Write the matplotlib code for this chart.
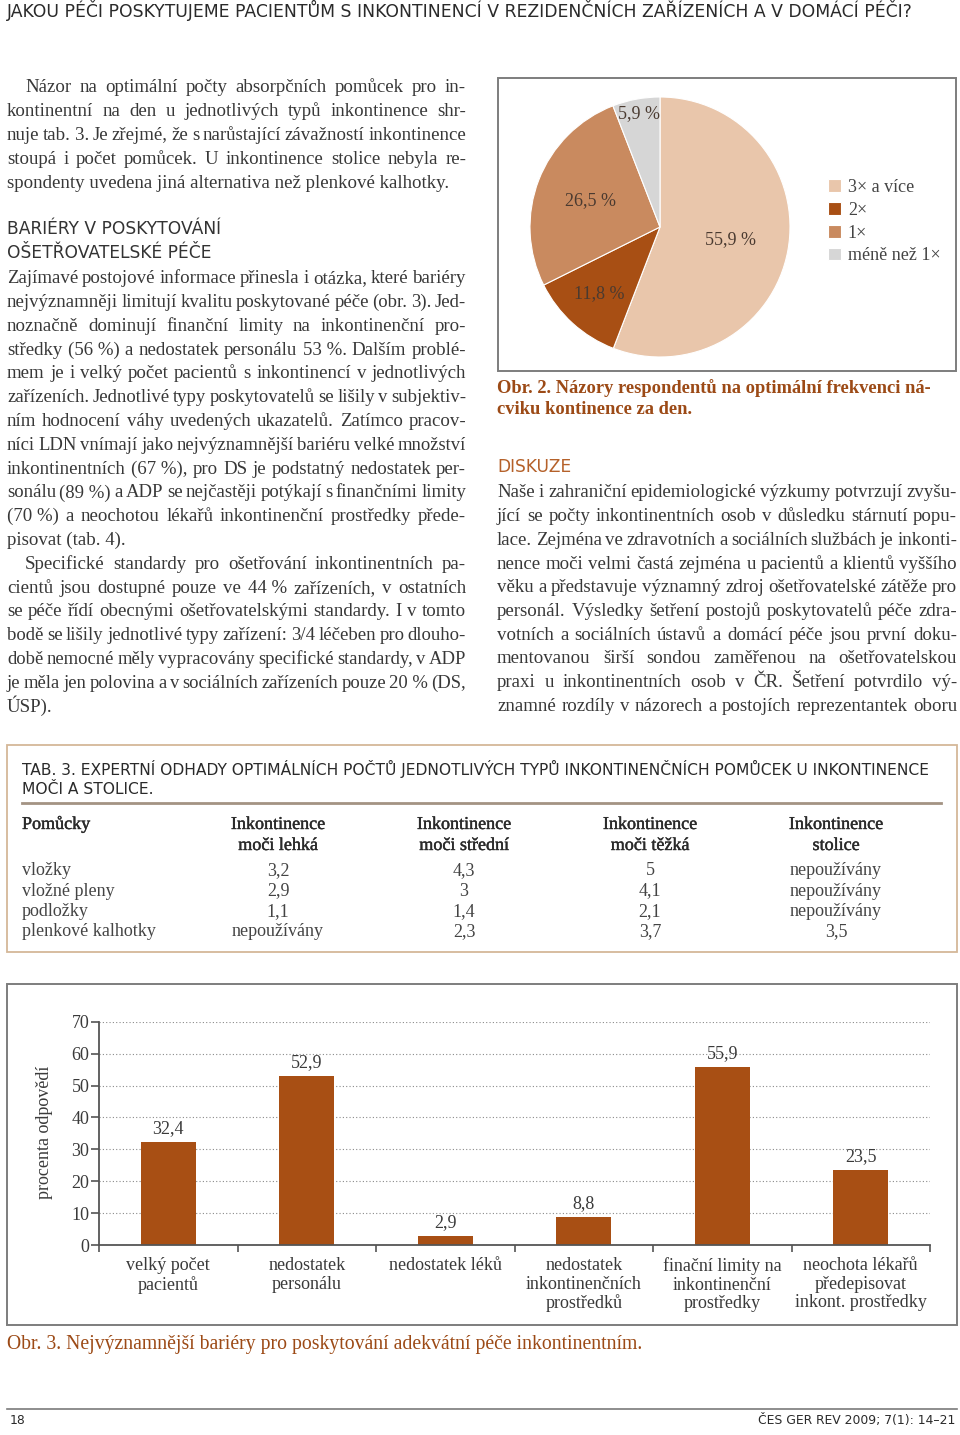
import matplotlib as mpl
mpl.use('Agg')
import numpy as np
import matplotlib.pyplot as plt
from matplotlib.patches import Rectangle
from matplotlib.lines import Line2D
from matplotlib.font_manager import FontProperties
import matplotlib.patheffects as pe

# --- data -------------------------------------------------------------
freq_labels = ['3× a více', '2×', '1×', 'méně než 1×']
freq_values = [55.9, 11.8, 26.5, 5.9]
pie_colors = ['#e9c6ab', '#a84f14', '#c98a5f', '#d6d6d6']
label_dist = [0.55, 0.69, 0.57, 0.89]

barrier_labels = ['velký počet\npacientů', 'nedostatek\npersonálu', 'nedostatek léků',
                  'nedostatek\ninkontinenčních\nprostředků',
                  'finační limity na\ninkontinenční\nprostředky',
                  'neochota lékařů\npředepisovat\ninkont. prostředky']
barrier_values = [32.4, 52.9, 2.9, 8.8, 55.9, 23.5]

tab_rows = ['vložky', 'vložné pleny', 'podložky', 'plenkové kalhotky']
tab_heads = [('Inkontinence', 'moči lehká'), ('Inkontinence', 'moči střední'),
             ('Inkontinence', 'moči těžká'), ('Inkontinence', 'stolice')]
tab_lehka = ['3,2', '2,9', '1,1', 'nepoužívány']
tab_stredni = ['4,3', '3', '1,4', '2,3']
tab_tezka = ['5', '4,1', '2,1', '3,7']
tab_stolice = ['nepoužívány', 'nepoužívány', 'nepoužívány', '3,5']

par1 = ['Názor na optimální počty absorpčních pomůcek pro in-',
        'kontinentní na den u jednotlivých typů inkontinence shr-',
        'nuje tab. 3. Je zřejmé, že s narůstající závažností inkontinence',
        'stoupá i počet pomůcek. U inkontinence stolice nebyla re-',
        'spondenty uvedena jiná alternativa než plenkové kalhotky.']
par2 = ['Zajímavé postojové informace přinesla i otázka, které bariéry',
        'nejvýznamněji limitují kvalitu poskytované péče (obr. 3). Jed-',
        'noznačně dominují finanční limity na inkontinenční pro-',
        'středky (56\u00a0%) a nedostatek personálu 53\u00a0%. Dalším problé-',
        'mem je i velký počet pacientů s inkontinencí v jednotlivých',
        'zařízeních. Jednotlivé typy poskytovatelů se lišily v subjektiv-',
        'ním hodnocení váhy uvedených ukazatelů. Zatímco pracov-',
        'níci LDN vnímají jako nejvýznamnější bariéru velké množství',
        'inkontinentních (67\u00a0%), pro DS je podstatný nedostatek per-',
        'sonálu (89\u00a0%) a ADP se nejčastěji potýkají s finančními limity',
        '(70\u00a0%) a neochotou lékařů inkontinenční prostředky přede-',
        'pisovat (tab. 4).']
par3 = ['Specifické standardy pro ošetřování inkontinentních pa-',
        'cientů jsou dostupné pouze ve 44\u00a0% zařízeních, v ostatních',
        'se péče řídí obecnými ošetřovatelskými standardy. I v tomto',
        'bodě se lišily jednotlivé typy zařízení: 3/4 léčeben pro dlouho-',
        'době nemocné měly vypracovány specifické standardy, v ADP',
        'je měla jen polovina a v sociálních zařízeních pouze 20\u00a0% (DS,',
        'ÚSP).']
par4 = ['Naše i zahraniční epidemiologické výzkumy potvrzují zvyšu-',
        'jící se počty inkontinentních osob v důsledku stárnutí popu-',
        'lace. Zejména ve zdravotních a sociálních službách je inkonti-',
        'nence moči velmi častá zejména u pacientů a klientů vyššího',
        'věku a představuje významný zdroj ošetřovatelské zátěže pro',
        'personál. Výsledky šetření postojů poskytovatelů péče zdra-',
        'votních a sociálních ústavů a domácí péče jsou první doku-',
        'mentovanou širší sondou zaměřenou na ošetřovatelskou',
        'praxi u inkontinentních osob v ČR. Šetření potvrdilo vý-',
        'znamné rozdíly v názorech a postojích reprezentantek oboru']

# --- page setup ---------------------------------------------------------
W, H = 960, 1435
SERIF = 'Liberation Serif'
SANS = 'DejaVu Sans'
TXT = '#383838'
CAP = '#9c4a16'
BAR = '#a84f14'
BODY = 13.6
SMALL = 13
MINGAP = 3.5

fig = plt.figure(figsize=(9.6, 14.35), dpi=100)
fig.patch.set_facecolor('white')
renderer = fig.canvas.get_renderer()


def fx(x):
    return x / W


def fy(y):
    return 1 - y / H


def width_of(s, fp):
    w, h, d = renderer.get_text_width_height_descent(s, fp, ismath=False)
    return w


def paragraph(lines, x0, x1, y0, dy, indent=0, justify_last=False, color=TXT, size=BODY):
    for i, line in enumerate(lines):
        fp = FontProperties(family=SERIF, size=size)
        y = y0 + i * dy
        left = x0 + (indent if i == 0 else 0)
        words = line.split(' ')
        if (i == len(lines) - 1 and not justify_last) or len(words) == 1:
            fig.text(fx(left), fy(y), line, fontproperties=fp, color=color, va='baseline')
            continue
        ws = [width_of(w, fp) for w in words]
        room = x1 - left - MINGAP * (len(words) - 1)
        if sum(ws) > room:
            # line too long for the column: shrink this line a touch
            fp = FontProperties(family=SERIF, size=size * room / sum(ws))
            ws = [width_of(w, fp) for w in words]
        gap = (x1 - left - sum(ws)) / (len(words) - 1)
        x = left
        for w, wd in zip(words, ws):
            fig.text(fx(x), fy(y), w, fontproperties=fp, color=color, va='baseline')
            x += wd + gap


def fit_size(s, x0, x1, family, weight='normal'):
    fp = FontProperties(family=family, size=10, weight=weight)
    return 10 * (x1 - x0) / width_of(s, fp)


def box(x0, y0, x1, y1, color, lw):
    fig.add_artist(Rectangle((fx(x0), fy(y1)), (x1 - x0) / W, (y1 - y0) / H,
                             transform=fig.transFigure, fill=False, edgecolor=color, lw=lw))


def hline(x0, x1, y, color, lw):
    fig.add_artist(Line2D([fx(x0), fx(x1)], [fy(y), fy(y)], transform=fig.transFigure,
                          color=color, lw=lw))


# header
hdr = 'JAKOU PÉČI POSKYTUJEME PACIENTŮM S INKONTINENCÍ V REZIDENČNÍCH ZAŘÍZENÍCH A V DOMÁCÍ PÉČI?'
fig.text(fx(7), fy(17), hdr, family=SANS, size=fit_size(hdr, 7, 912, SANS), color='#2a2a2a', va='baseline')

# left column
paragraph(par1, 7, 466, 91.7, 24, indent=18)
hs = fit_size('BARIÉRY V POSKYTOVÁNÍ', 7, 221, SANS)
fig.text(fx(7), fy(234), 'BARIÉRY V POSKYTOVÁNÍ', family=SANS, size=hs, color='#333333', va='baseline')
fig.text(fx(7), fy(257.7), 'OŠETŘOVATELSKÉ PÉČE', family=SANS, size=hs, color='#333333', va='baseline')
paragraph(par2, 7, 466, 283.3, 23.8)
paragraph(par3, 7, 466, 283.3 + 12 * 23.8, 23.8, indent=18)

# right column
fig.text(fx(497), fy(471.7), 'DISKUZE', family=SANS, size=hs, color='#b5612a', va='baseline')
paragraph(par4, 497, 957, 497.5, 23.7, justify_last=True)

cs = fit_size('Obr. 2. Názory respondentů na optimální frekvenci ná-', 497, 932, SERIF, 'bold')
fig.text(fx(497), fy(393.3), 'Obr. 2. Názory respondentů na optimální frekvenci ná-',
         family=SERIF, weight='bold', size=cs, color=CAP, va='baseline')
fig.text(fx(497), fy(414.3), 'cviku kontinence za den.',
         family=SERIF, weight='bold', size=cs, color=CAP, va='baseline')

# --- pie ---------------------------------------------------------------
box(498, 78, 956, 371, '#7d7d7d', 1.4)
ax_pie = fig.add_axes([fx(530), fy(357), 260 / W, 260 / H])
wedges, _ = ax_pie.pie(freq_values, colors=pie_colors, startangle=90, counterclock=False,
                       radius=1, wedgeprops=dict(edgecolor='white', linewidth=0.8))
ax_pie.set_xlim(-1, 1)
ax_pie.set_ylim(-1, 1)
ax_pie.set_aspect('equal')
for w, v, d in zip(wedges, freq_values, label_dist):
    ang = np.deg2rad((w.theta1 + w.theta2) / 2)
    ax_pie.text(d * np.cos(ang), d * np.sin(ang), f'{v:.1f} %'.replace('.', ','),
                ha='center', va='center', family=SERIF, size=SMALL, color='#4a3a30')
ax_pie.legend(wedges, freq_labels, loc='upper left', bbox_to_anchor=(fx(819), fy(170)),
              bbox_transform=fig.transFigure, frameon=False, borderpad=0,
              handlelength=0.7, handleheight=0.7, handletextpad=0.4, labelspacing=0.32,
              prop=FontProperties(family=SERIF, size=SMALL), labelcolor='#444444')

# --- table -------------------------------------------------------------
box(7, 745, 957, 952, '#d4b898', 1.3)
ttl = 'TAB. 3. EXPERTNÍ ODHADY OPTIMÁLNÍCH POČTŮ JEDNOTLIVÝCH TYPŮ INKONTINENČNÍCH POMŮCEK U INKONTINENCE'
ts = fit_size(ttl, 22, 933, SANS)
fig.text(fx(22), fy(775), ttl, family=SANS, size=ts, color='#2a2a2a', va='baseline')
fig.text(fx(22), fy(794), 'MOČI A STOLICE.', family=SANS, size=ts, color='#2a2a2a', va='baseline')
hline(22, 941, 803, '#a39383', 2)

semi = [pe.withStroke(linewidth=0.3, foreground='#2a2a2a')]
fig.text(fx(22), fy(829), 'Pomůcky', family=SERIF, size=SMALL, color='#2a2a2a', va='baseline', path_effects=semi)
col_x = [278, 464, 650, 836]
for cx, (h1, h2) in zip(col_x, tab_heads):
    fig.text(fx(cx), fy(829), h1, family=SERIF, size=SMALL, color='#2a2a2a', ha='center', va='baseline', path_effects=semi)
    fig.text(fx(cx), fy(850), h2, family=SERIF, size=SMALL, color='#2a2a2a', ha='center', va='baseline', path_effects=semi)
for i, name in enumerate(tab_rows):
    y = 875 + i * 20.5
    fig.text(fx(22), fy(y), name, family=SERIF, size=SMALL, color='#444444', va='baseline')
    for cx, col in zip(col_x, [tab_lehka, tab_stredni, tab_tezka, tab_stolice]):
        fig.text(fx(cx), fy(y), col[i], family=SERIF, size=SMALL, color='#444444', ha='center', va='baseline')

# --- bar chart -----------------------------------------------------------
box(7, 984, 957, 1325, '#7d7d7d', 1.4)
ax = fig.add_axes([fx(99), fy(1245), (930 - 99) / W, (1245 - 1021.7) / H])
xpos = np.arange(len(barrier_values)) + 0.5
ax.bar(xpos, barrier_values, width=0.4, color=BAR, zorder=2)
ax.set_xlim(0, len(barrier_values))
ax.set_ylim(0, 70)
ax.set_yticks(range(0, 71, 10))
ax.set_xticks(xpos)
ax.set_xticklabels(barrier_labels, family=SERIF, size=SMALL, color='#3a3a3a', linespacing=1.1)
ax.set_xticks(np.arange(len(barrier_values) + 1), minor=True)
ax.tick_params(axis='x', which='major', length=0, pad=9)
ax.tick_params(axis='x', which='minor', length=5, direction='out', color='#555555', width=1.2)
ax.tick_params(axis='y', length=6, direction='out', color='#555555', width=1.2, pad=1,
               labelsize=SMALL, labelcolor='#3a3a3a')
for lab in ax.get_yticklabels():
    lab.set_family(SERIF)
ax.yaxis.grid(True, linestyle=(0, (1, 2)), color='#8a8a8a', linewidth=0.8)
ax.set_axisbelow(True)
for s in ['top', 'right']:
    ax.spines[s].set_visible(False)
for s in ['left', 'bottom']:
    ax.spines[s].set_color('#555555')
    ax.spines[s].set_linewidth(1.3)
for xv, v in zip(xpos, barrier_values):
    ax.annotate(f'{v:.1f}'.replace('.', ','), (xv, v), xytext=(0, 6.5), textcoords='offset points',
                ha='center', va='baseline', family=SERIF, size=SMALL, color='#3a3a3a')
ax.set_ylabel('procenta odpovědí', family=SERIF, size=SMALL, color='#3a3a3a')
ax.yaxis.set_label_coords(-0.055, 0.506)

os3 = 'Obr. 3. Nejvýznamnější bariéry pro poskytování adekvátní péče inkontinentním.'
fig.text(fx(7), fy(1349.5), os3, family=SERIF, size=fit_size(os3, 7, 643, SERIF), color=CAP, va='baseline')

# --- footer ------------------------------------------------------------
hline(7, 957, 1409, '#7a7a7a', 1.2)
fs = fit_size('ČES GER REV 2009; 7(1): 14–21', 758, 955, SANS)
fig.text(fx(10), fy(1424), '18', family=SANS, size=fs, color='#2a2a2a', va='baseline')
fig.text(fx(955), fy(1424), 'ČES GER REV 2009; 7(1): 14–21', family=SANS, size=fs,
         color='#2a2a2a', ha='right', va='baseline')

fig.savefig('out.png', dpi=100)
